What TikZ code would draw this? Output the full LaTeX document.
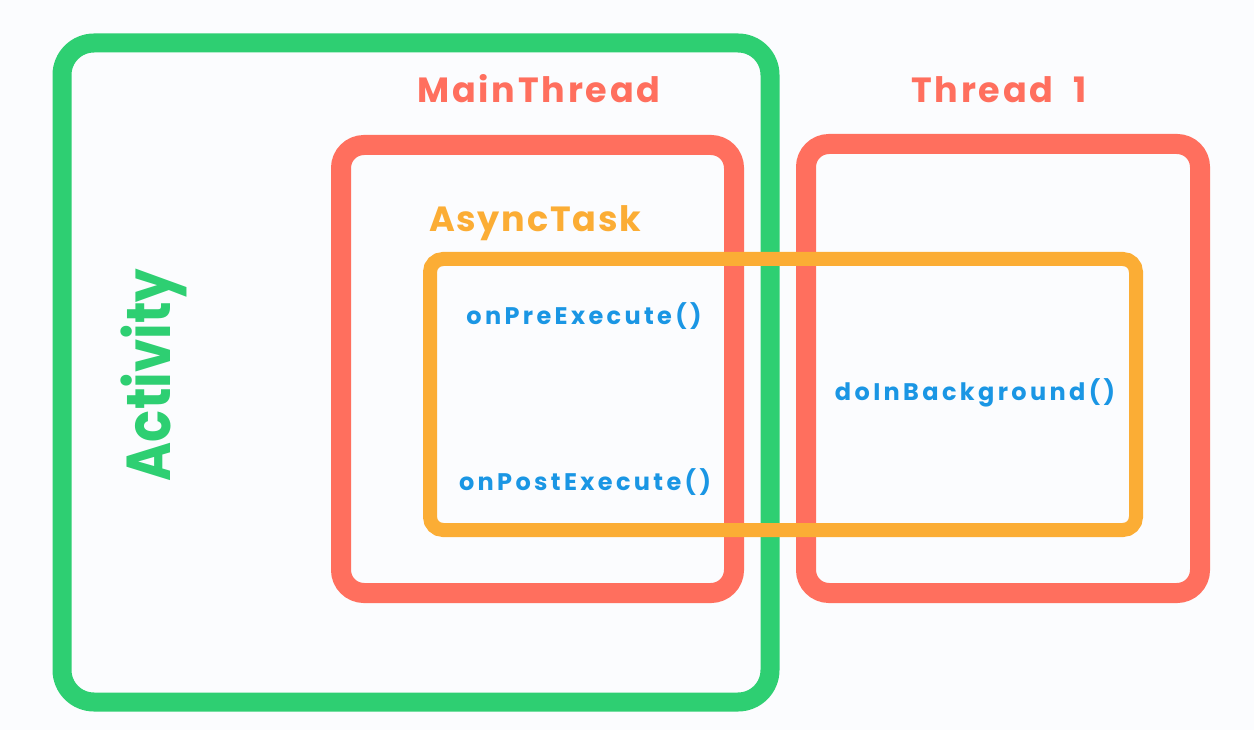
\documentclass[tikz,border=0pt]{standalone}
\usepackage{fontspec}
\setmainfont{Poppins}
\definecolor{bgc}{HTML}{FBFCFE}
\definecolor{actgreen}{HTML}{2ECF72}
\definecolor{thrred}{HTML}{FF6F5E}
\definecolor{taskorange}{HTML}{FBAD35}
\definecolor{methblue}{HTML}{1A96E4}
\begin{document}
\begin{tikzpicture}[x=1pt,y=-1pt,
  frame/.style={draw, rectangle, inner sep=0pt, outer sep=0pt, fill=none},
  label/.style={font=\bfseries\fontsize{35}{38}\selectfont\addfontfeature{LetterSpace=8},
                anchor=base, inner sep=0pt},
  method/.style={font=\bfseries\fontsize{24}{27}\selectfont\addfontfeature{LetterSpace=14},
                 text=methblue, anchor=base, inner sep=0pt}]
  \fill[bgc] (0,0) rectangle (1254,730);
  \useasboundingbox (0,0) rectangle (1254,730);

  % Activity frame
  \node[frame, draw=actgreen, line width=19pt, rounded corners=32pt,
        minimum width=708pt, minimum height=659pt] (activity) at (416,372.5) {};
  % Thread frames
  \node[frame, draw=thrred, line width=20pt, rounded corners=23pt,
        minimum width=393pt, minimum height=448pt] (mainthread) at (537.5,369) {};
  \node[frame, draw=thrred, line width=20pt, rounded corners=23pt,
        minimum width=394pt, minimum height=449pt] (thread1) at (1003,368.5) {};
  % AsyncTask frame, laid over both threads
  \node[frame, draw=taskorange, line width=14pt, rounded corners=13pt,
        minimum width=706pt, minimum height=271pt] (asynctask) at (783,394.5) {};

  % Titles
  \node[label, text=thrred] (mtlabel) at (539,103) {MainThread};
  \node[label, text=thrred] (t1label) at (999,103) {Thread\hspace{20pt}1};
  \node[label, text=taskorange, font=\bfseries\fontsize{35}{38}\selectfont\addfontfeature{LetterSpace=5}]
        (atlabel) at (535,232) {AsyncTask};
  \node[font=\bfseries\fontsize{62}{66}\selectfont, text=actgreen, anchor=base,
        inner sep=0pt, rotate=90] (actlabel) at (170,375) {\scalebox{0.855}[1]{Activity}};

  % Callback methods
  \node[method] (pre) at (584,325) {onPreExecute()};
  \node[method] (post) at (585,490) {onPostExecute()};
  \node[method] (bg) at (975,400) {doInBackground()};
\end{tikzpicture}
\end{document}
